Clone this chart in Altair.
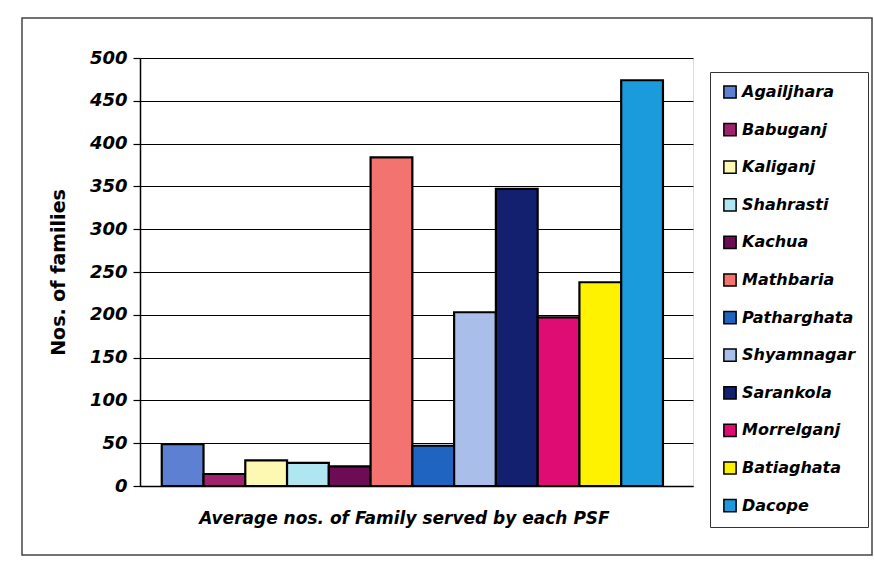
import altair as alt
import pandas as pd

# Upazilas and average number of families served by each PSF
names = ["Agailjhara", "Babuganj", "Kaliganj", "Shahrasti", "Kachua", "Mathbaria",
         "Patharghata", "Shyamnagar", "Sarankola", "Morrelganj", "Batiaghata", "Dacope"]
families = [49, 14, 30, 27, 23, 384, 47, 203, 347, 197, 238, 474]
colors = ["#5E80D2", "#A1226C", "#FDF9B2", "#AFE6F2", "#6B0C55", "#F2736F",
          "#2064C2", "#A9BEE8", "#13206F", "#DE0C73", "#FFF200", "#1B9BDB"]
y_ticks = [0, 50, 100, 150, 200, 250, 300, 350, 400, 450, 500]

df = pd.DataFrame({"name": names, "families": families})

FONT = "DejaVu Sans"
W, H = 553, 428

bars = alt.Chart(df).mark_bar(stroke="black", strokeWidth=2.2).encode(
    x=alt.X("name:N", sort=names,
            scale=alt.Scale(paddingInner=0, paddingOuter=0.62, align=0.42),
            axis=alt.Axis(title="Average nos. of Family served by each PSF",
                          labels=False, ticks=False, domainColor="black",
                          domainWidth=1.5, titleFont=FONT, titleFontSize=17,
                          titleFontWeight="bold", titleFontStyle="italic",
                          titleColor="black", titlePadding=24,
                          titleX=264, titleAlign="center")),
    y=alt.Y("families:Q", scale=alt.Scale(domain=[0, 500], nice=False),
            axis=alt.Axis(title="Nos. of families", values=y_ticks,
                          grid=True, gridColor="black", gridWidth=1,
                          domainColor="black", domainWidth=1.5,
                          tickColor="black", tickSize=7, tickWidth=1.2,
                          labelFont=FONT, labelFontSize=18,
                          labelFontWeight="bold", labelFontStyle="italic",
                          labelColor="black", labelPadding=6,
                          titleFont=FONT, titleFontSize=19,
                          titleFontWeight="bold", titleColor="black",
                          titleAngle=-90, titleX=-82, titleY=H / 2,
                          titleAlign="center", titleBaseline="middle")),
    color=alt.Color("name:N", sort=names,
                    scale=alt.Scale(domain=names, range=colors),
                    legend=alt.Legend(title=None, orient="none",
                                      legendX=570, legendY=14,
                                      symbolType="square", symbolSize=150,
                                      symbolStrokeColor="black",
                                      symbolStrokeWidth=1.5,
                                      symbolOpacity=1, labelOffset=4,
                                      labelFont=FONT, labelFontSize=16,
                                      labelFontWeight="bold",
                                      labelFontStyle="italic",
                                      labelColor="black", labelLimit=200,
                                      rowPadding=17.6, padding=12,
                                      strokeColor="#333", fillColor="white")),
)

# Thin frame around the whole chart
frame = alt.Chart(pd.DataFrame({"k": [0]})).mark_rect(
    fillOpacity=0, stroke="#444", strokeWidth=1.5
).encode(
    x=alt.value(-118), x2=alt.value(732),
    y=alt.value(-40), y2=alt.value(497),
)

chart = alt.layer(frame, bars).properties(
    width=W, height=H,
    autosize=alt.AutoSizeParams(type="none"),
    padding={"left": 140, "top": 58, "right": 874 - 140 - W, "bottom": 571 - 58 - H},
).configure_view(stroke="#888", strokeWidth=1).configure(background="white")

chart.save("out.html", embed_options={"renderer": "svg", "actions": False})
